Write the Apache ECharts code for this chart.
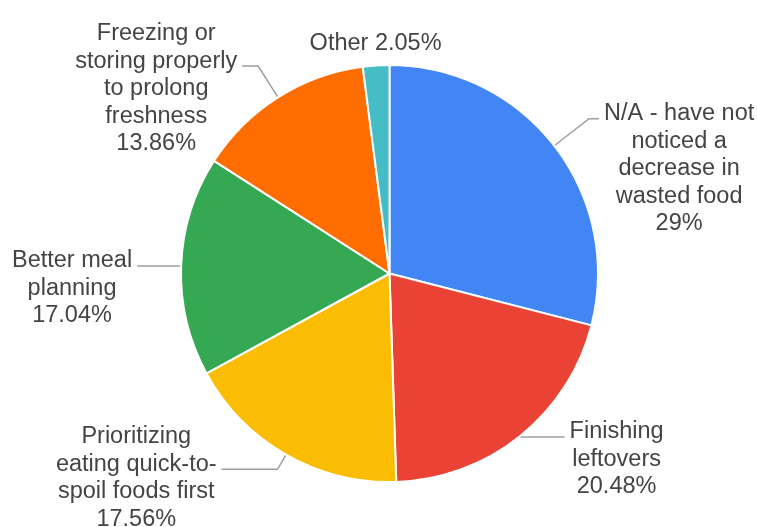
<!DOCTYPE html>
<html>
<head>
<meta charset="utf-8">
<script src="https://cdn.jsdelivr.net/npm/echarts@6/dist/echarts.min.js"></script>
<style>
	html, body { margin: 0; padding: 0; background: #fff; }
	#chart { width: 757px; height: 527px; }
</style>
</head>
<body>
<div id="chart"></div>
<script>
// slices, clockwise from 12 o'clock
const categories = [
	'N/A - have not\nnoticed a\ndecrease in\nwasted food',
	'Finishing\nleftovers',
	'Prioritizing\neating quick-to-\nspoil foods first',
	'Better meal\nplanning',
	'Freezing or\nstoring properly\nto prolong\nfreshness',
	'Other'
];
const values = [29, 20.48, 17.56, 17.04, 13.86, 2.05];
const percentLabels = ['29%', '20.48%', '17.56%', '17.04%', '13.86%', '2.05%'];
const colors = ['#4285f4', '#ea4335', '#fbbc04', '#34a853', '#ff6d01', '#46bdc6'];

// leader line look per slice: [length, length2], and which text line it points at
const leaderLen = [[44, 10], [1, 44], [17, 56], [3, 41], [37, 16], [8, 0]];
const leaderRow = [0, 0, 1, 0, 1, 0];

const LH = 27.5;
const GAP = 5;

const chart = echarts.init(document.getElementById('chart'));
chart.setOption({
	animation: false,
	color: colors,
	series: [
		{
			type: 'pie',
			center: [389.5, 273.5],
			radius: 208.5,
			startAngle: 90,
			clockwise: true,
			avoidLabelOverlap: false,
			itemStyle: {
				borderColor: '#fff',
				borderWidth: 2,
			},
			label: {
				show: true,
				position: 'outside',
				color: '#444',
				fontSize: 23.5,
				lineHeight: LH,
				fontFamily: 'Liberation Sans, Arial, sans-serif',
				formatter: (p) => {
					if (p.dataIndex === 5) return p.name + ' ' + percentLabels[p.dataIndex];
					return p.name + '\n' + percentLabels[p.dataIndex];
				},
			},
			labelLine: {
				lineStyle: { color: '#9e9e9e', width: 1.5 },
			},
			labelLayout: (params) => {
				const pts = params.labelLinePoints;
				const end = pts[2];
				const w = params.labelRect.width;
				if (params.dataIndex === 5) {
					// small slice at the top: label sits just above it
					return { x: end[0], y: end[1], align: 'center', verticalAlign: 'bottom', labelLinePoints: pts };
				}
				const right = end[0] >= pts[1][0];
				return {
					x: right ? end[0] + GAP + w / 2 : end[0] - GAP - w / 2,
					y: end[1] - (leaderRow[params.dataIndex] + 0.5) * LH - 5,
					align: 'center',
					verticalAlign: 'top',
					labelLinePoints: pts,
				};
			},
			data: values.map((v, i) => ({
				name: categories[i],
				value: v,
				labelLine: {
					show: i !== 5,
					length: leaderLen[i][0],
					length2: leaderLen[i][1],
				},
			})),
		},
	],
});
</script>
</body>
</html>
